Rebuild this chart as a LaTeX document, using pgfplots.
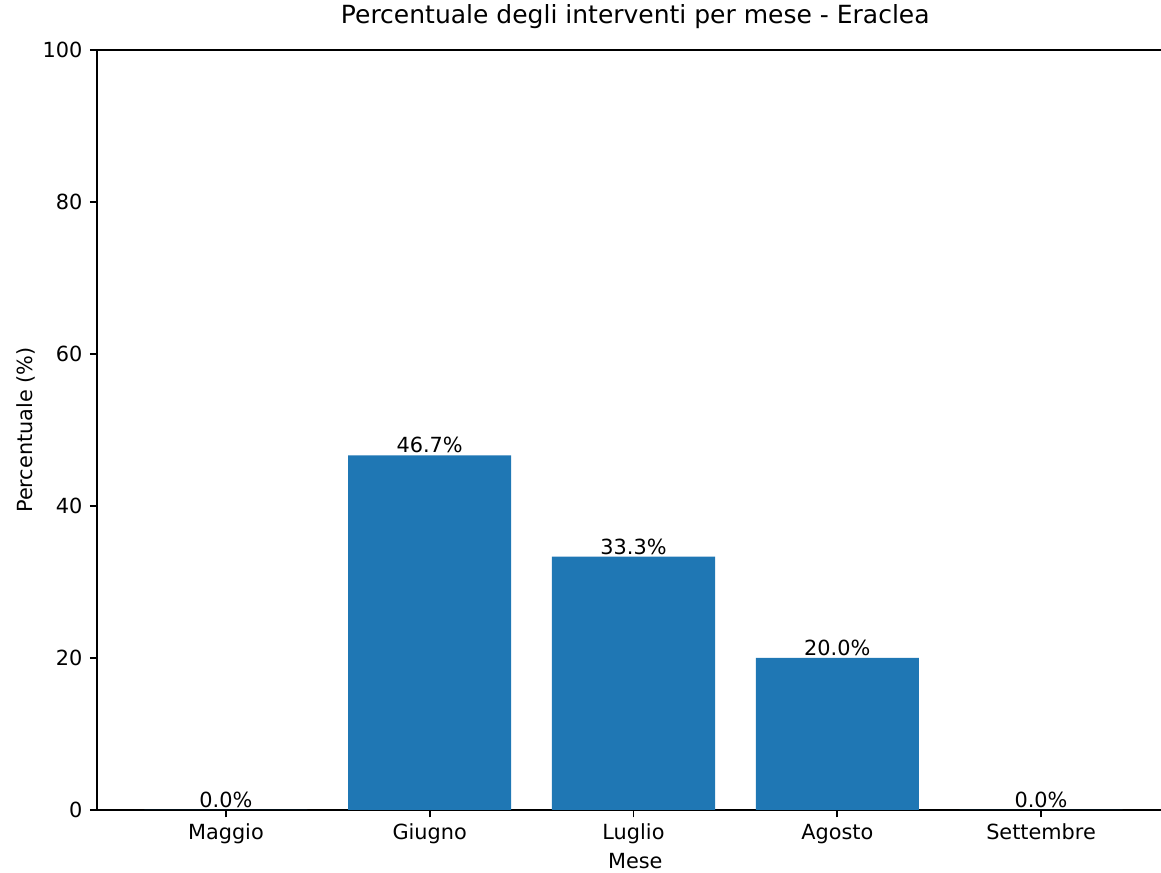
\documentclass[border=0pt]{standalone}
\usepackage{fontspec}
\setmainfont{DejaVu Sans}
\usepackage{pgfplots}
\pgfplotsset{compat=1.18}
\definecolor{barblue}{HTML}{1F77B4}
\begin{document}
\begin{tikzpicture}
\clip (-46.7pt,-30.24pt) rectangle ++(557.28pt,419.04pt);
\begin{axis}[
  at={(0,0)}, anchor=south west,
  scale only axis, width=516.5pt, height=364.8pt,
  xmin=-0.631, xmax=4.649, ymin=0, ymax=100,
  tick pos=left,
  tick align=outside,
  major tick length=3.5pt,
  every tick/.style={black, line width=0.8pt},
  axis line style={line width=0.8pt},
  ytick={0,20,40,60,80,100},
  xtick={0,1,2,3,4},
  xticklabels={Maggio,Giugno,Luglio,Agosto,Settembre},
  /pgf/number format/assume math mode=true,
  xticklabel style={anchor=base, inner sep=0pt, yshift=-10.9pt},
  yticklabel style={anchor=east, inner sep=0pt, xshift=-3.5pt},
  title={Percentuale degli interventi per mese - Eraclea},
  title style={at={(axis description cs:0.5,1.0178)}, anchor=base, inner sep=0pt, font=\fontsize{12}{14.4}\selectfont},
  xlabel={Mese},
  xlabel style={at={(axis description cs:0.5,-0.0775)}, anchor=base, inner sep=0pt},
  ylabel={Percentuale (\%)},
  ylabel style={at={(axis description cs:-0.0598,0.5)}, anchor=base, inner sep=0pt},
  ybar, bar width=0.8,
  nodes near coords={\pgfmathprintnumber[fixed,fixed zerofill,precision=1]{\pgfplotspointmeta}\%},
  every node near coord/.append style={anchor=base, inner sep=0pt, yshift=1.25pt, black},
]
\addplot[fill=barblue, draw=none] coordinates {(0,0) (1,46.67) (2,33.33) (3,20.0) (4,0)};
\end{axis}
\end{tikzpicture}
\end{document}
